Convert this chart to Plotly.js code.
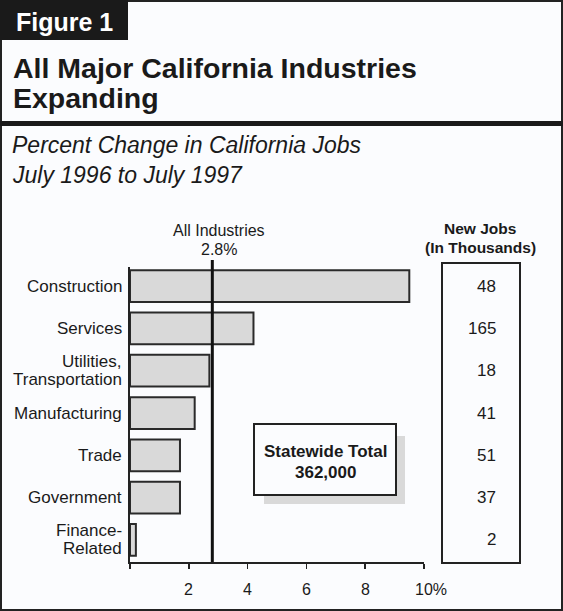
<!DOCTYPE html>
<html><head><meta charset="utf-8">
<script src="https://cdn.plot.ly/plotly-3.0.1.min.js"></script>
<style>html,body{margin:0;padding:0;background:#fbfcfe;}#chart{width:563px;height:611px;}</style>
</head><body><div id="chart"></div>
<script>
const categories = ["Construction", "Services", "Utilities,\nTransportation", "Manufacturing", "Trade", "Government", "Finance-\nRelated"];
const pctChange = [9.5, 4.2, 2.7, 2.2, 1.7, 1.7, 0.2];
const newJobs = [48, 165, 18, 41, 51, 37, 2];
const allIndustriesPct = 2.8;
const statewideTotal = "362,000";
const xTickVals = [0, 2, 4, 6, 8, 10];
const xTickText = ["", "2", "4", "6", "8", "10%"];

const W = 563, H = 611;
const L = 130, R = 424, T = 267, B = 562;
const px = x => (x - L) / (R - L);
const py = y => (B - y) / (B - T);
const FONT = "Liberation Sans, Arial, Helvetica, sans-serif";
const ink = "#1a1a1a";

const idx = categories.map((c, i) => i);

const trace = {
  type: "bar", orientation: "h",
  x: pctChange, y: idx, width: 0.75,
  marker: {color: "#d9d9d9", line: {color: "#2a2a2a", width: 2}},
  hoverinfo: "skip"
};

const annotations = [];
function txt(text, x, y, opts) {
  annotations.push(Object.assign({
    text: text, xref: "paper", yref: "paper", x: px(x), y: py(y),
    showarrow: false, xanchor: "left", yanchor: "middle",
    font: {family: FONT, size: 16, color: ink}
  }, opts || {}));
}
txt("<b>Figure 1</b>", 14, 22, {font: {family: FONT, size: 25, color: "#ffffff"}});
txt("<b>All Major California Industries</b>", 11, 68, {font: {family: FONT, size: 28.5, color: ink}});
txt("<b>Expanding</b>", 11, 98, {font: {family: FONT, size: 28.5, color: ink}});
txt("<i>Percent Change in California Jobs</i>", 10, 145, {font: {family: FONT, size: 23, color: ink}});
txt("<i>July 1996 to July 1997</i>", 10, 175, {font: {family: FONT, size: 23, color: ink}});
txt("All Industries", 219, 231, {xanchor: "center", font: {family: FONT, size: 16, color: ink}});
txt(allIndustriesPct.toFixed(1) + "%", 219, 249, {xanchor: "center", font: {family: FONT, size: 16, color: ink}});
txt("<b>New Jobs</b>", 480, 228, {xanchor: "center", font: {family: FONT, size: 15.5, color: ink}});
txt("<b>(In Thousands)</b>", 480, 248, {xanchor: "center", font: {family: FONT, size: 15.5, color: ink}});
txt("<b>Statewide Total</b>", 325, 451, {xanchor: "center", font: {family: FONT, size: 17, color: ink}});
txt("<b>" + statewideTotal + "</b>", 325, 472, {xanchor: "center", font: {family: FONT, size: 17, color: ink}});

// x tick labels placed below the axis
xTickVals.forEach((v, i) => {
  if (!xTickText[i]) return;
  annotations.push({
    text: xTickText[i], xref: "x", yref: "paper", x: v, y: py(589),
    xshift: xTickText[i].endsWith("%") ? 7 : 0,
    showarrow: false, xanchor: "center", yanchor: "middle",
    font: {family: FONT, size: 16, color: ink}
  });
});

categories.forEach((c, i) => {
  const lines = c.split("\n");
  lines.forEach((ln, k) => {
    const shift = (lines.length - 1) * 9 - k * 18;
    annotations.push({
      text: ln, xref: "paper", yref: "y", x: px(124), y: i, yshift: shift,
      showarrow: false, xanchor: "right", yanchor: "middle",
      font: {family: FONT, size: 17, color: ink}
    });
  });
  annotations.push({
    text: String(newJobs[i]), xref: "paper", yref: "y", x: px(498), y: i,
    showarrow: false, xanchor: "right", yanchor: "middle",
    font: {family: FONT, size: 17, color: ink}
  });
});

const shapes = [
  {type: "rect", xref: "paper", yref: "paper", x0: px(1), x1: px(562), y0: py(1), y1: py(610), line: {color: "#222", width: 2}, layer: "below"},
  {type: "rect", xref: "paper", yref: "paper", x0: px(0), x1: px(128), y0: py(0), y1: py(40), fillcolor: "#1a1a1a", line: {width: 0}, layer: "below"},
  {type: "rect", xref: "paper", yref: "paper", x0: px(0), x1: px(563), y0: py(121), y1: py(126), fillcolor: "#1a1a1a", line: {width: 0}, layer: "below"},
  {type: "line", xref: "x", yref: "paper", x0: allIndustriesPct, x1: allIndustriesPct, y0: 0, y1: py(260), line: {color: "#111", width: 3}, layer: "above"},
  {type: "rect", xref: "paper", yref: "paper", x0: px(442), x1: px(520), y0: py(263), y1: py(563), line: {color: "#222", width: 2}, fillcolor: "rgba(0,0,0,0)"},
  {type: "rect", xref: "paper", yref: "paper", x0: px(264), x1: px(405), y0: py(436), y1: py(504), fillcolor: "#d9d9d9", line: {width: 0}, layer: "above"},
  {type: "rect", xref: "paper", yref: "paper", x0: px(254), x1: px(396), y0: py(424), y1: py(495), fillcolor: "#fbfcfe", line: {color: "#222", width: 2}, layer: "above"}
];

const layout = {
  width: W, height: H,
  margin: {l: L, r: W - R, t: T, b: H - B, pad: 0},
  paper_bgcolor: "#fbfcfe", plot_bgcolor: "rgba(0,0,0,0)",
  showlegend: false, bargap: 0,
  font: {family: FONT, size: 16, color: ink},
  xaxis: {
    range: [0, 10], tickvals: xTickVals, ticktext: xTickText, showticklabels: false,
    ticks: "outside", ticklen: 5, tickwidth: 1.5, tickcolor: "#222",
    showline: true, linecolor: "#222", linewidth: 2, showgrid: false, zeroline: false,
    fixedrange: true
  },
  yaxis: {
    range: [6.52, -0.45], showticklabels: false, ticks: "",
    showline: true, linecolor: "#222", linewidth: 2, showgrid: false, zeroline: false, fixedrange: true
  },
  shapes: shapes, annotations: annotations
};

Plotly.newPlot("chart", [trace], layout, {displayModeBar: false, staticPlot: true});
</script></body></html>
